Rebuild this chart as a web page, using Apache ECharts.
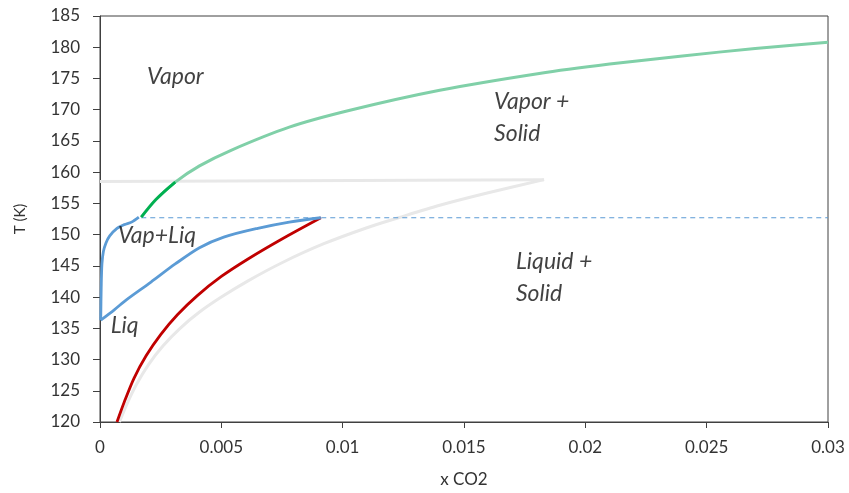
<!DOCTYPE html>
<html>
<head>
<meta charset="utf-8">
<script src="https://cdn.jsdelivr.net/npm/echarts@6/dist/echarts.min.js"></script>
<style>
html,body{margin:0;padding:0;background:#fff;}
#chart{width:849px;height:493px;}
</style>
</head>
<body>
<div id="chart"></div>
<script>
// Axis ticks
const xTicks = [0, 0.005, 0.01, 0.015, 0.02, 0.025, 0.03];
const yTicks = [120, 125, 130, 135, 140, 145, 150, 155, 160, 165, 170, 175, 180, 185];

// Vapor / solid boundary (green)
const greenX = [0.0017, 0.0023, 0.0031, 0.0041, 0.0054, 0.0078, 0.0103, 0.0140, 0.0181, 0.0210, 0.0240, 0.0270, 0.0300];
const greenT = [152.8, 155.6, 158.4, 161.0, 163.5, 167.2, 169.9, 173.1, 175.8, 177.3, 178.6, 179.8, 180.8];
// darker green part
const darkGreenX = [0.0017, 0.0023, 0.0031];
const darkGreenT = [152.8, 155.6, 158.4];

// Dew branch (blue, upper-left)
const dewX = [0.0016, 0.0013, 0.0010, 0.0007, 0.0004, 0.00025, 0.00014, 0.00008, 0.00005, 0.00003];
const dewT = [152.8, 152.0, 151.6, 151.0, 149.8, 148.7, 147.3, 145.3, 141.5, 136.3];
// Bubble branch (blue, lower)
const bubX = [0.00003, 0.0006, 0.0011, 0.0021, 0.0031, 0.0041, 0.0051, 0.0065, 0.0078, 0.0091];
const bubT = [136.3, 138.0, 139.6, 142.4, 145.3, 147.9, 149.6, 151.0, 152.0, 152.7];

// Liquid / solid boundary (red)
const redX = [0.0007, 0.0010, 0.0014, 0.0019, 0.0025, 0.0032, 0.0040, 0.0050, 0.0061, 0.0075, 0.0091];
const redT = [120.0, 123.2, 127.0, 130.6, 134.0, 137.2, 140.2, 143.3, 146.1, 149.3, 152.7];

// Light grey curve and grey horizontal
const grayX = [0.0008, 0.0011, 0.0015, 0.0020, 0.0026, 0.0033, 0.0041, 0.0050, 0.0061, 0.0075, 0.0092, 0.0110, 0.0123, 0.0140, 0.0160, 0.0183];
const grayT = [120.0, 122.8, 126.0, 129.2, 132.2, 135.0, 137.6, 140.0, 142.6, 145.5, 148.5, 151.1, 152.7, 154.7, 156.7, 158.8];
const grayFlatX = [0.0183, 0.0];
const grayFlatT = [158.8, 158.5];

// Dashed three-phase line
const dashX = [0.0017, 0.0300];
const dashT = [152.7, 152.7];

// Region annotations
const noteText = ['Vapor', 'Vapor +\nSolid', 'Vap+Liq', 'Liq', 'Liquid +\nSolid'];
const noteX = [0.0019, 0.0162, 0.0007, 0.0004, 0.0171];
const noteT = [175.3, 168.7, 149.9, 135.5, 143.1];

const zip = (xs, ys) => xs.map((x, i) => [x, ys[i]]);

const chart = echarts.init(document.getElementById('chart'), null, {renderer: 'canvas'});
const axisColor = '#404040';
const lblColor = '#333333';
const fontFam = 'Lato, "Open Sans", sans-serif';

chart.setOption({
  animation: false,
  backgroundColor: '#fff',
  grid: {left: 100, right: 21, top: 16, bottom: 70, show: true, borderColor: axisColor, borderWidth: 1, backgroundColor: 'transparent'},
  xAxis: {
    type: 'value', min: xTicks[0], max: xTicks[xTicks.length - 1], interval: 0.005,
    name: 'x CO2', nameLocation: 'middle', nameGap: 49,
    nameTextStyle: {color: lblColor, fontSize: 17, fontFamily: fontFam},
    axisLine: {show: true, lineStyle: {color: axisColor, width: 1}},
    axisTick: {show: true, inside: false, length: 6, lineStyle: {color: axisColor}},
    axisLabel: {color: lblColor, fontSize: 17, fontFamily: fontFam, margin: 17,
      formatter: v => String(parseFloat(v.toFixed(4)))},
    splitLine: {show: false}
  },
  yAxis: {
    type: 'value', min: yTicks[0], max: yTicks[yTicks.length - 1], interval: 5,
    name: 'T (K)', nameLocation: 'middle', nameGap: 72, nameRotate: 90,
    nameTextStyle: {color: lblColor, fontSize: 15, fontFamily: fontFam},
    axisLine: {show: true, lineStyle: {color: axisColor, width: 1}},
    axisTick: {show: true, inside: false, length: 7, lineStyle: {color: axisColor}},
    axisLabel: {color: lblColor, fontSize: 17, fontFamily: fontFam, margin: 20},
    splitLine: {show: false}
  },
  series: [
    {type: 'line', data: zip(grayX, grayT), smooth: 0.3, symbol: 'none', lineStyle: {color: '#e8e8e8', width: 3}, z: 1},
    {type: 'line', data: zip(grayFlatX, grayFlatT), symbol: 'none', lineStyle: {color: '#e8e8e8', width: 3}, z: 1},
    {type: 'line', data: zip(dashX, dashT), symbol: 'none', lineStyle: {color: '#5b9bd5', width: 1.2, type: [5, 4]}, z: 2},
    {type: 'line', data: zip(redX, redT), smooth: 0.3, symbol: 'none', lineStyle: {color: '#c00000', width: 2.8}, z: 3},
    {type: 'line', data: zip(dewX, dewT), smooth: 0.3, symbol: 'none', lineStyle: {color: '#5b9bd5', width: 2.8}, z: 3},
    {type: 'line', data: zip(bubX, bubT), smooth: 0.3, symbol: 'none', lineStyle: {color: '#5b9bd5', width: 2.8}, z: 3},
    {type: 'line', data: zip(greenX, greenT), smooth: 0.3, symbol: 'none', lineStyle: {color: '#80d0a8', width: 3}, z: 3},
    {type: 'line', data: zip(darkGreenX, darkGreenT), smooth: 0.3, symbol: 'none', lineStyle: {color: '#00b050', width: 2.8}, z: 4},
    {type: 'scatter', data: noteX.map((x, i) => ({value: [x, noteT[i]], name: noteText[i]})),
     symbolSize: 2, itemStyle: {color: 'rgba(0,0,0,0)'}, z: 5, silent: true,
     label: {show: true, position: 'right', distance: 0, align: 'left', verticalAlign: 'middle',
       formatter: p => p.name, color: '#111111', fontSize: 23, fontStyle: 'italic',
       fontFamily: fontFam, lineHeight: 32}}
  ]
});
</script>
</body>
</html>
